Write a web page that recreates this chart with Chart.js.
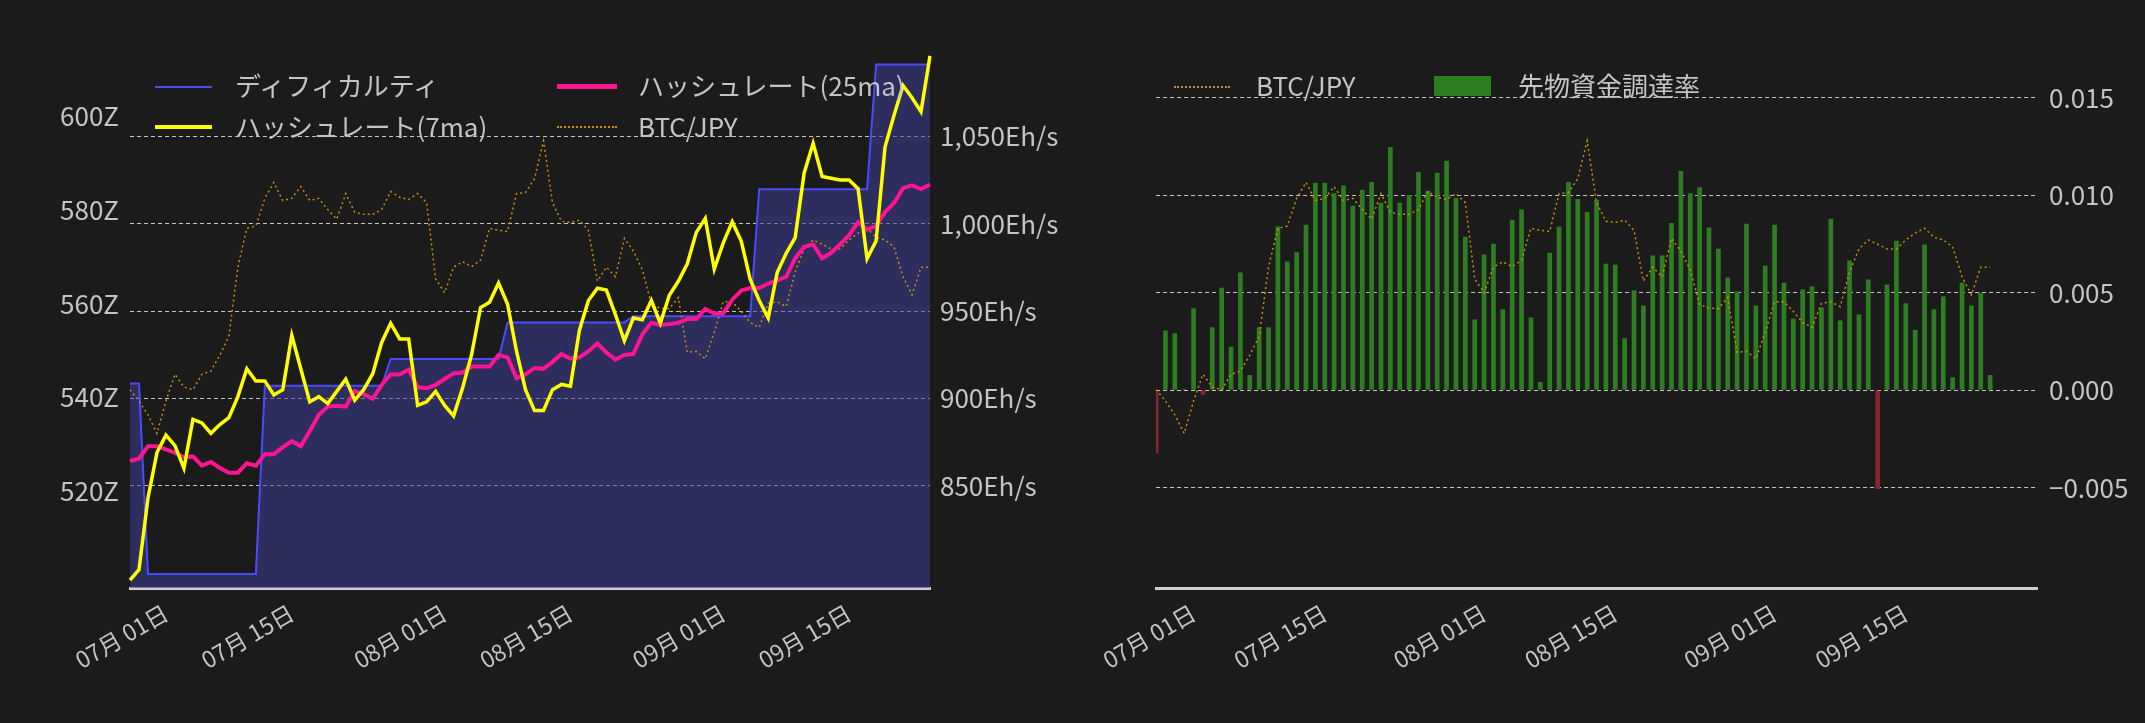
<!DOCTYPE html>
<html>
<head>
<meta charset="utf-8">
<script src="https://cdn.jsdelivr.net/npm/chart.js"></script>
<style>
  body { margin: 0; background: #1b1b1b; width: 2145px; height: 723px; overflow: hidden; font-family: "Noto Sans CJK JP", "Noto Sans", sans-serif; }
  .box { position: absolute; top: 0; height: 723px; }
  .lg { position: absolute; color: #c4c4c4; font-size: 26px; line-height: 30px; white-space: nowrap; }
  .sw { position: absolute; }
</style>
</head>
<body>
<div class="box" style="left:0;width:1100px"><canvas id="left"></canvas></div>
<div class="box" style="left:1100px;width:1045px"><canvas id="right"></canvas></div>

<div class="sw" style="left:155px;top:86px;width:57px;border-top:2px solid #4a4aff"></div>
<div class="lg" style="left:235px;top:70px">ディフィカルティ</div>
<div class="sw" style="left:155px;top:125px;width:57px;border-top:4px solid #ffff00"></div>
<div class="lg" style="left:235px;top:111px">ハッシュレート(7ma)</div>
<div class="sw" style="left:557px;top:84px;width:60px;border-top:5px solid #ff1493"></div>
<div class="lg" style="left:638px;top:70px">ハッシュレート(25ma)</div>
<div class="sw" style="left:557px;top:126px;width:60px;border-top:2px dotted #c8900a"></div>
<div class="lg" style="left:638px;top:111px">BTC/JPY</div>

<div class="sw" style="left:1174px;top:86px;width:56px;border-top:2px dotted #c8900a"></div>
<div class="lg" style="left:1256px;top:70px">BTC/JPY</div>
<div class="sw" style="left:1434px;top:76px;width:57px;height:20px;background:#2e7d23"></div>
<div class="lg" style="left:1518px;top:70px">先物資金調達率</div>

<script>
// 06/27 .. 09/24 (90 days)
const difficulty = [543,543].concat(
  Array(13).fill(502.4), Array(14).fill(542.5), Array(13).fill(548.2),
  Array(14).fill(556.0), Array(14).fill(557.3), Array(13).fill(584.4), Array(7).fill(611.0));

const hash7 = [796,802,843,869,879,873,860,888,886,880,885,889,901,917,910,910,902,905,936,917,
  898,901,897,904,911,899,905,914,932,943,934,934,896,898,904,896,890,906,925,952,
  955,966,954,927,905,893,893,905,908,907,939,956,963,962,948,933,946,945,956,943,
  959,967,977,995,1003,974,989,1001,990,968,956,946,972,983,992,1029,1046,1027,1026,1025,
  1025,1020,980,990,1044,1062,1079,1072,1064,1096];

const hash25 = [864.2,865.5,872.6,872.6,870.8,868.9,866.3,866.8,861.5,863.6,860.2,
  857.5,857.5,862.9,861.5,868.1,868.1,872.1,875.5,872.6,881.3,
  890.5,895.3,895.8,895.3,904.2,902.4,899.8,907.7,913.7,913.7,
  916.4,906.4,905.8,907.7,911.1,914.3,914.8,918.2,918.2,918.2,
  924.8,923.5,911.6,913.7,917.4,916.9,920.9,925.4,922.7,923.5,
  927.0,931.4,926.2,922.2,924.8,925.4,936.7,943.3,942.0,942.5,
  943.3,945.4,945.4,951.2,948.6,948.6,956.5,961.7,963.1,963.1,
  965.7,967.5,969.6,980.2,986.8,988.1,980.2,983.3,988.1,993.4,
  1000.8,996.6,998.7,1006.6,1011.8,1020.3,1021.9,1019.8,1022.4];

// BTC/JPY (relative index, hidden axis)
const btc = [37.2,35.1,32.5,29.0,35.1,40.1,37.7,37.2,40.1,40.7,
  43.7,47.2,60.2,67.5,67.9,73.1,76.1,72.7,73.1,75.3,
  72.7,73.1,71.0,69.2,74.0,70.5,70.1,70.1,71.0,74.4,
  73.3,72.9,74.0,72.3,58.0,55.4,60.2,61.2,60.3,61.5,
  67.5,67.1,66.9,74.0,74.2,76.8,83.9,72.3,68.8,68.6,
  69.0,67.1,57.6,60.2,58.4,65.6,63.2,59.7,53.2,52.5,
  52.4,54.5,44.2,44.4,43.0,48.0,53.7,53.7,51.9,49.8,
  48.9,53.4,53.7,52.8,59.3,63.6,65.3,64.5,63.6,63.6,
  65.3,66.6,67.5,65.8,65.3,64.0,58.4,55.0,60.2,60.2];

const funding = [-0.00323,0.00307,0.00292,0.00007,0.0042,-0.00024,0.00323,0.00526,0.00224,0.00604,
  0.00078,0.00323,0.00323,0.0084,0.0066,0.00708,0.00849,0.01064,0.01064,0.0101,
  0.0105,0.00946,0.01028,0.01068,0.00962,0.01248,0.00962,0.01002,0.0112,0.01024,
  0.01116,0.01177,0.00986,0.00788,0.00363,0.00696,0.00752,0.00415,0.00875,0.00927,
  0.00373,0.00042,0.00705,0.0084,0.01068,0.00981,0.00915,0.00976,0.00649,0.00644,
  0.00267,0.00512,0.00434,0.00691,0.00691,0.00858,0.01125,0.0101,0.01042,0.00835,
  0.00726,0.00578,0.00507,0.00854,0.00434,0.00639,0.00849,0.00552,0.00368,0.00517,
  0.00533,0.00425,0.0088,0.00358,0.00665,0.00389,0.00568,-0.00507,0.00542,0.00767,
  0.00446,0.00309,0.00748,0.00415,0.00481,0.00066,0.00552,0.00434,0.00498,0.00078];

function makeDates(n) {
  const out = [];
  const d = new Date(2024, 5, 27);
  for (let i = 0; i < n; i++) {
    out.push(new Date(d.getFullYear(), d.getMonth(), d.getDate() + i));
  }
  return out;
}
const pad = n => String(n).padStart(2, '0');
const fmtDate = d => pad(d.getMonth() + 1) + '月 ' + pad(d.getDate()) + '日';

const leftDates = makeDates(90);
const rightDates = makeDates(95);

const TICK = '#c4c4c4';
const GRID = 'rgba(255,255,255,0.75)';
const FONT = { family: '"Noto Sans CJK JP", "Noto Sans", sans-serif', size: 26 };
const XFONT = { family: '"Noto Sans CJK JP", "Noto Sans", sans-serif', size: 23 };

function xAxis(dates) {
  return {
    type: 'category',
    offset: false,
    grid: { display: false, drawTicks: true },
    border: { color: '#cfcfcf', width: 3 },
    ticks: {
      color: TICK, font: XFONT, autoSkip: false, maxRotation: 30, minRotation: 30,
      callback: (v, i) => {
        const d = dates[i];
        return (d.getDate() === 1 || d.getDate() === 15) ? fmtDate(d) : null;
      }
    },
    afterFit: s => { s.height = 135; }
  };
}
const keepSteps = step => s => {
  s.ticks = s.ticks.filter(t => Math.abs(t.value / step - Math.round(t.value / step)) < 1e-6);
};

Chart.defaults.animation = false;
Chart.defaults.responsive = false;

const lc = document.getElementById('left');
lc.width = 1100; lc.height = 723;
new Chart(lc, {
  type: 'line',
  data: {
    labels: leftDates.map(fmtDate),
    datasets: [
      { label: 'ハッシュレート(7ma)', data: hash7, yAxisID: 'yH', borderColor: '#ffff00', borderWidth: 3.5, pointRadius: 0, order: 0, tension: 0 },
      { label: 'ハッシュレート(25ma)', data: hash25, yAxisID: 'yH', borderColor: '#ff1493', borderWidth: 4, pointRadius: 0, order: 1 },
      { label: 'BTC/JPY', data: btc, yAxisID: 'yB', borderColor: '#c8900a', borderWidth: 1.5, borderDash: [2, 3], pointRadius: 0, order: 2 },
      { label: 'ディフィカルティ', data: difficulty, yAxisID: 'yD', borderColor: '#4a4aff', borderWidth: 2, pointRadius: 0, fill: 'origin', backgroundColor: 'rgba(60,60,150,0.55)', order: 3 }
    ]
  },
  options: {
    layout: { padding: { top: 55, right: 0, left: 0, bottom: 0 } },
    plugins: { legend: { display: false }, tooltip: { enabled: false } },
    scales: {
      x: xAxis(leftDates),
      yD: {
        position: 'left', min: 499.4, max: 613,
        grid: { display: false }, border: { display: false },
        ticks: { color: TICK, font: FONT, stepSize: 20, callback: v => v + 'Z' },
        afterBuildTicks: keepSteps(20),
        afterFit: s => { s.width = 130; }
      },
      yH: {
        position: 'right', min: 791.5, max: 1096.5,
        grid: { color: GRID, lineWidth: 1, drawTicks: false, tickBorderDash: [] },
        border: { display: false, dash: [4, 3] },
        ticks: { color: TICK, font: FONT, stepSize: 50, padding: 10, callback: v => v.toLocaleString('en-US') + 'Eh/s' },
        afterBuildTicks: keepSteps(50),
        afterFit: s => { s.width = 170; }
      },
      yB: { display: false, min: 0, max: 100 }
    }
  },
  plugins: [{
    id: 'dash',
    beforeDraw: c => { c.options.scales.yH.grid.borderDash = [4, 3]; }
  }]
});

const rc = document.getElementById('right');
rc.width = 1045; rc.height = 723;
new Chart(rc, {
  type: 'bar',
  data: {
    labels: rightDates.map(fmtDate),
    datasets: [
      { type: 'line', label: 'BTC/JPY', data: btc, yAxisID: 'yB', borderColor: '#c8900a', borderWidth: 1.5, borderDash: [2, 3], pointRadius: 0, order: 0 },
      { label: '先物資金調達率', data: funding, yAxisID: 'y', backgroundColor: funding.map(v => v < 0 ? '#8a2430' : '#2e7d23'), barPercentage: 0.5, categoryPercentage: 1, order: 1 }
    ]
  },
  options: {
    layout: { padding: { top: 55, left: 48, right: 0, bottom: 0 } },
    plugins: { legend: { display: false }, tooltip: { enabled: false } },
    scales: {
      x: xAxis(rightDates),
      y: {
        position: 'right', min: -0.01015, max: 0.0172,
        grid: { color: GRID, lineWidth: 1, drawTicks: false },
        border: { display: false, dash: [4, 3] },
        ticks: { color: TICK, font: FONT, stepSize: 0.005, padding: 12,
          callback: v => (v < -1e-9 ? '\u2212' : '') + Math.abs(v).toFixed(3) },
        afterBuildTicks: keepSteps(0.005),
        afterFit: s => { s.width = 108; }
      },
      yB: { display: false, min: 0, max: 100 }
    }
  }
});
</script>
</body>
</html>
